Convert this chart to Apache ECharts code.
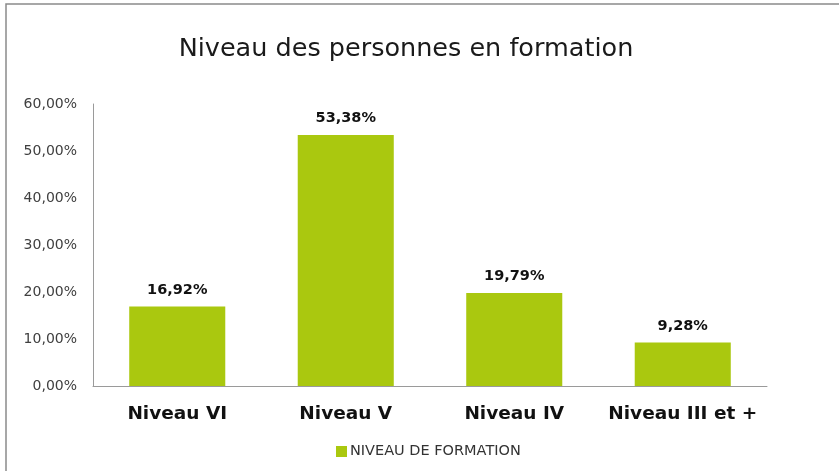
<!DOCTYPE html>
<html>
<head>
<meta charset="utf-8">
<script src="https://cdn.jsdelivr.net/npm/echarts@6/dist/echarts.min.js"></script>
<style>
  html, body { margin: 0; padding: 0; background: #fff; }
  #chart { width: 839px; height: 471px; }
</style>
</head>
<body>
<div id="chart"></div>
<script>
  const categories = ['Niveau VI', 'Niveau V', 'Niveau IV', 'Niveau III et +']
  const values = [16.92, 53.38, 19.79, 9.28]
  const seriesName = 'NIVEAU DE FORMATION'
  const chartTitle = 'Niveau des personnes en formation'

  const fmt = (v) => v.toFixed(2).replace('.', ',') + '%'
  const font = 'DejaVu Sans'

  const chart = echarts.init(document.getElementById('chart'))
  chart.setOption({
    backgroundColor: '#ffffff',
    animation: false,
    graphic: [{
      type: 'rect',
      shape: { x: 6, y: 4, width: 900, height: 600 },
      style: { fill: 'none', stroke: '#8a8a8a', lineWidth: 1.5 },
      silent: true
    }],
    title: {
      text: chartTitle,
      left: 401,
      textAlign: 'center',
      top: 31,
      textStyle: {
        fontFamily: font,
        fontWeight: 'normal',
        fontSize: 25.5,
        color: '#1a1a1a'
      }
    },
    legend: {
      bottom: 7,
      left: 331,
      icon: 'rect',
      itemWidth: 11,
      itemHeight: 11,
      itemGap: 4,
      data: [seriesName],
      textStyle: { fontFamily: font, fontSize: 14.5, color: '#333', padding: [0, 0, 0, -2] }
    },
    grid: {
      left: 93,
      right: 72,
      top: 104,
      bottom: 85
    },
    xAxis: {
      type: 'category',
      data: categories,
      axisLine: { lineStyle: { color: '#9a9a9a', width: 1 } },
      axisTick: { show: false },
      axisLabel: {
        interval: 0,
        margin: 19,
        fontFamily: font,
        fontWeight: 'bold',
        fontSize: 18.5,
        color: '#111'
      }
    },
    yAxis: {
      type: 'value',
      min: 0,
      max: 60,
      interval: 10,
      axisLine: { show: true, lineStyle: { color: '#9a9a9a', width: 1 } },
      axisTick: { show: false },
      splitLine: { show: false },
      axisLabel: {
        margin: 16,
        fontFamily: font,
        fontSize: 14,
        color: '#404040',
        formatter: fmt
      }
    },
    series: [{
      name: seriesName,
      type: 'bar',
      data: values,
      barWidth: '57%',
      itemStyle: { color: '#aac80f' },
      label: {
        show: true,
        position: 'top',
        distance: 9,
        fontFamily: font,
        fontWeight: 'bold',
        fontSize: 14.5,
        color: '#111',
        formatter: (p) => fmt(p.value)
      }
    }]
  })
</script>
</body>
</html>
